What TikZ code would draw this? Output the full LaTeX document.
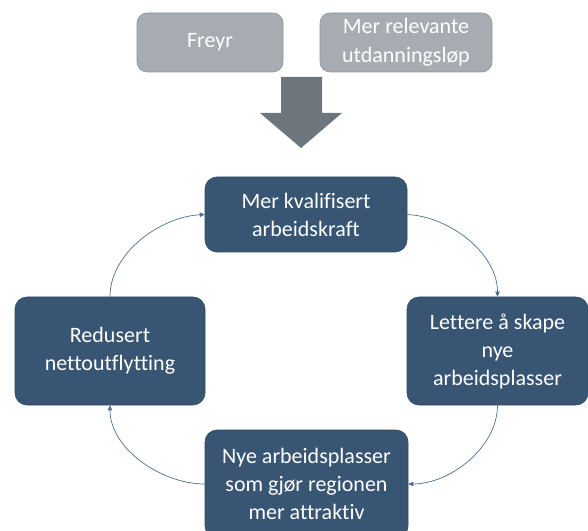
\documentclass[tikz,border=0pt]{standalone}
\usepackage{fontspec}
\setmainfont{Carlito}[Ligatures=NoCommon]
\usetikzlibrary{arrows.meta}
\definecolor{navy}{HTML}{385573}
\definecolor{navyedge}{HTML}{2F4963}
\definecolor{linkblue}{HTML}{4E6D8C}
\definecolor{stone}{HTML}{A6ACB1}
\definecolor{stoneedge}{HTML}{8F969C}
\definecolor{slate}{HTML}{6D757D}

\begin{document}
\begin{tikzpicture}[
  x=1pt, y=1pt,
  >={Triangle[length=5pt, width=4.5pt]},
  cyclebox/.style={draw=navyedge, fill=navy, line width=0.6pt, rounded corners=12pt,
    text=white, align=center, inner sep=0pt,
    font=\fontsize{22}{28}\selectfont},
  inputbox/.style={draw=stoneedge, fill=stone, line width=0.6pt, rounded corners=10pt,
    text=white, align=center, inner sep=0pt, minimum height=59pt,
    font=\fontsize{22}{29}\selectfont},
  link/.style={->, linkblue, line width=0.7pt}
]

% Canvas
\useasboundingbox (0,0) rectangle (588,530);

% ── Inputs ──
\node[inputbox, minimum width=146pt] (freyr) at (210,487.5) {Freyr};
\node[inputbox, minimum width=172pt] (utdanning) at (406,487.5)
  {Mer relevante\\utdanningsløp};

% ── Big arrow down into the cycle ──
\fill[slate] (281,453) -- (322,453) -- (322,417) -- (342,417)
  -- (301,382) -- (260,417) -- (281,417) -- cycle;

% ── Cycle ──
\node[cyclebox, minimum width=202pt, minimum height=75pt] (kval) at (306,315.5)
  {Mer kvalifisert\\arbeidskraft};
\node[cyclebox, minimum width=181pt, minimum height=108pt] (lettere) at (497.5,179)
  {Lettere å skape\\nye\\arbeidsplasser};
\node[cyclebox, minimum width=190pt, minimum height=108pt] (redusert) at (110,179)
  {Redusert\\nettoutflytting};
\node[cyclebox, minimum width=203pt, minimum height=108pt] (nye) at (306.5,46)
  {Nye arbeidsplasser\\som gjør regionen\\mer attraktiv};

\draw[link] (kval.east) to[out=-3, in=90, looseness=0.9] (lettere.north);
\draw[link] (lettere.south) to[out=-90, in=0, looseness=0.9] (nye.east);
\draw[link] (nye.west) to[out=180, in=-90, looseness=0.9] (redusert.south);
\draw[link] (redusert.north) to[out=90, in=183, looseness=0.9] (kval.west);

\end{tikzpicture}
\end{document}
